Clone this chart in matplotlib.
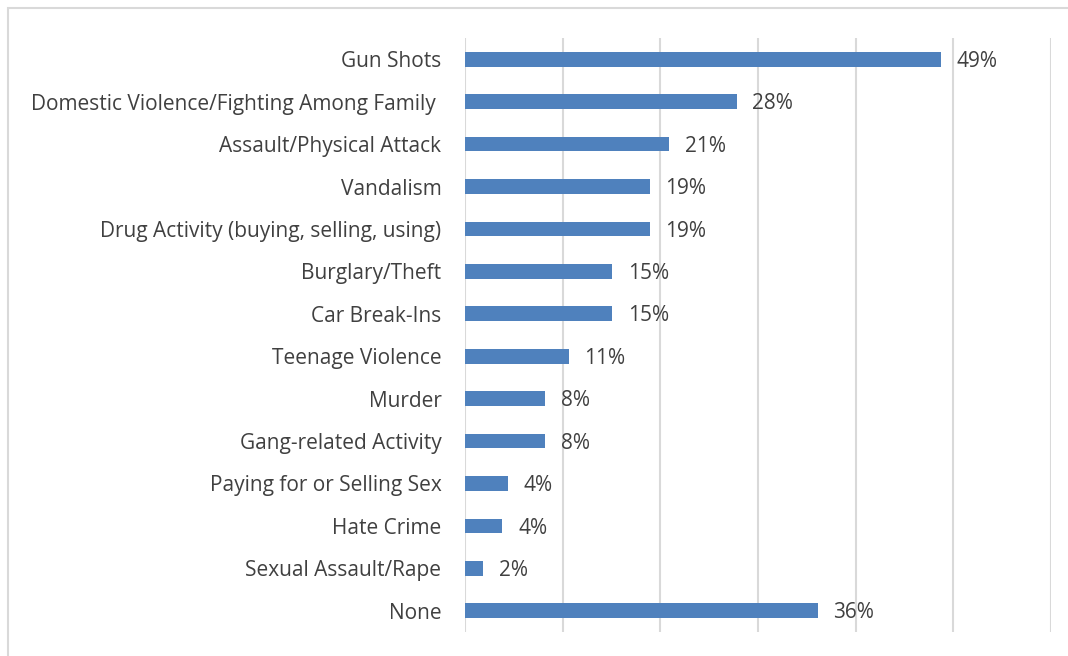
import matplotlib.pyplot as plt
from matplotlib.patches import Rectangle

categories = ["Gun Shots", "Domestic Violence/Fighting Among Family ", "Assault/Physical Attack",
              "Vandalism", "Drug Activity (buying, selling, using)", "Burglary/Theft",
              "Car Break-Ins", "Teenage Violence", "Murder", "Gang-related Activity",
              "Paying for or Selling Sex", "Hate Crime", "Sexual Assault/Rape", "None"]
values = [48.7, 27.8, 20.9, 18.9, 18.9, 15.1, 15.1, 10.6, 8.2, 8.2, 4.4, 3.8, 1.8, 36.1]
labels = ["49%", "28%", "21%", "19%", "19%", "15%", "15%", "11%", "8%", "8%",
          "4%", "4%", "2%", "36%"]
ticks = [0, 10, 20, 30, 40, 50, 60]

plt.rcParams['font.family'] = ['Open Sans', 'DejaVu Sans']
text_col = '#404040'
fs = 15

fig = plt.figure(figsize=(10.68, 6.56), dpi=100)
fig.patches.append(Rectangle((8 / 1068, -0.1), 1.2, 648 / 656 + 0.1,
                             transform=fig.transFigure, fill=False,
                             edgecolor='#d9d9d9', linewidth=1.5))
ax = fig.add_axes([465 / 1068, 24 / 656, 586 / 1068, 594 / 656])

y = range(len(categories))
ax.barh(y, values, height=0.35, color='#4F81BD', zorder=3)
for i, (v, lab) in enumerate(zip(values, labels)):
    ax.annotate(lab, (v, i), xytext=(11.5, -1.5), textcoords='offset points',
                va='center', ha='left', fontsize=fs, color=text_col)

ax.set_xlim(0, 60)
ax.set_ylim(len(categories) - 0.5, -0.5)
ax.set_xticks(ticks)
ax.set_xticklabels([])
ax.set_yticks(list(y))
ax.set_yticklabels(categories, fontsize=fs, color=text_col)
ax.tick_params(axis='y', length=0, pad=17)
ax.tick_params(axis='x', length=0)
ax.grid(axis='x', color='#d9d9d9', linewidth=1.5, zorder=0)
for s in ax.spines.values():
    s.set_visible(False)

fig.savefig('out.png', dpi=100)
